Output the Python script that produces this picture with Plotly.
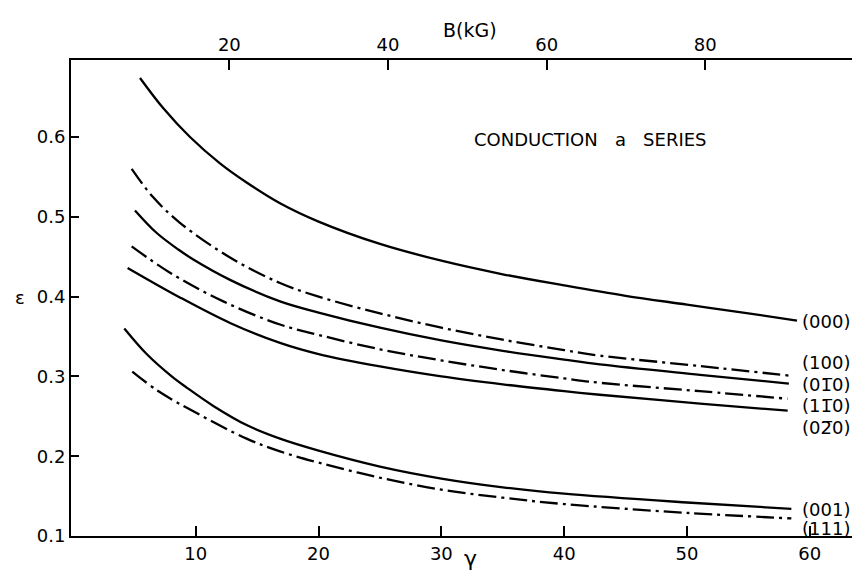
import plotly.graph_objects as go

# ---- data ----
gamma_000 = [5.46, 7.36, 9.53, 11.97, 14.14, 16.86, 20, 25, 30, 35, 40, 45, 50, 55, 58.96]
eps_000 = [0.674, 0.636, 0.600, 0.567, 0.543, 0.517, 0.494, 0.466, 0.445, 0.428, 0.414, 0.401, 0.390, 0.379, 0.370]

gamma_100 = [4.78, 6.5, 8.71, 12.79, 16.86, 20, 25, 30, 35, 40, 42.9, 51.06, 58.3]
eps_100 = [0.560, 0.525, 0.4925, 0.449, 0.417, 0.400, 0.379, 0.361, 0.346, 0.333, 0.326, 0.313, 0.301]

gamma_010 = [5.05, 6.8, 8.58, 9.8, 12.79, 16.86, 20, 25, 30, 35, 40, 42.9, 51.06, 58.3]
eps_010 = [0.508, 0.480, 0.459, 0.4465, 0.421, 0.394, 0.380, 0.361, 0.345, 0.332, 0.321, 0.315, 0.302, 0.291]

gamma_110 = [4.78, 7.9, 12.24, 16.86, 20, 25, 30, 35, 40, 42.9, 51.06, 58.2]
eps_110 = [0.463, 0.430, 0.394, 0.365, 0.352, 0.334, 0.320, 0.308, 0.2975, 0.292, 0.2815, 0.272]

gamma_020 = [4.45, 8.71, 12.79, 16.86, 20, 25, 30, 35, 40, 42.9, 51.06, 58.2]
eps_020 = [0.436, 0.399, 0.367, 0.342, 0.328, 0.3125, 0.300, 0.290, 0.2815, 0.277, 0.266, 0.257]

gamma_001 = [4.18, 6.0, 8.04, 9.26, 11.43, 14.14, 16.86, 20, 25, 30, 35, 40, 50, 58.5]
eps_001 = [0.360, 0.328, 0.300, 0.286, 0.263, 0.239, 0.222, 0.207, 0.187, 0.172, 0.161, 0.153, 0.142, 0.134]

gamma_111 = [4.83, 7.0, 10.07, 14.14, 16.86, 20, 25, 30, 35, 40, 50, 58.5]
eps_111 = [0.306, 0.281, 0.254, 0.222, 0.206, 0.192, 0.173, 0.158, 0.148, 0.140, 0.129, 0.122]

labels = ["(000)", "(100)", "(01\u03050)", "(11\u03050)", "(02\u03050)", "(001)", "(111)"]
label_eps = [0.3688, 0.3174, 0.2898, 0.2635, 0.2360, 0.1332, 0.1094]

x_ticks = [10, 20, 30, 40, 50, 60]
y_ticks = [0.1, 0.2, 0.3, 0.4, 0.5, 0.6]
y_ticktext = ["0.1", "0.2", "0.3", "0.4", "0.5", "0.6"]
b_ticks = [20, 40, 60, 80]

series = [
    (gamma_000, eps_000, "solid"),
    (gamma_100, eps_100, "dashdot"),
    (gamma_010, eps_010, "solid"),
    (gamma_110, eps_110, "dashdot"),
    (gamma_020, eps_020, "solid"),
    (gamma_001, eps_001, "solid"),
    (gamma_111, eps_111, "dashdot"),
]

FONT = "DejaVu Sans"
fig = go.Figure()
for gx, ey, style in series:
    dash = "solid" if style == "solid" else "18px,5px,3px,5px"
    fig.add_trace(go.Scatter(
        x=gx, y=ey, mode="lines",
        line=dict(color="black", width=2.3, dash=dash, shape="spline", smoothing=1.0),
        showlegend=False, hoverinfo="skip"))

# invisible trace to activate the top B axis
fig.add_trace(go.Scatter(x=[50], y=[0.4], xaxis="x2", mode="markers",
                         marker=dict(opacity=0), showlegend=False, hoverinfo="skip"))

for lab, ly in zip(labels, label_eps):
    fig.add_annotation(x=59.2, y=ly, text=lab, showarrow=False, xanchor="left",
                       yanchor="middle", font=dict(family=FONT, size=18, color="black"))

# page offset of 8px (body margin) compensated in margins
PW, PH = 789, 476
def px(xp):
    return (xp - 71) / PW
def py(yp):
    return (536 - yp) / PH

fig.add_annotation(x=px(590), y=py(127), xref="paper", yref="paper",
                   text="CONDUCTION   a   SERIES", showarrow=False,
                   font=dict(family=FONT, size=18, color="black"))
fig.add_annotation(x=px(470), y=py(573), xref="paper", yref="paper", text="\u03b3",
                   showarrow=False, font=dict(family=FONT, size=22, color="black"))
fig.add_annotation(x=px(470), y=py(17), xref="paper", yref="paper", text="B(kG)",
                   showarrow=False, font=dict(family=FONT, size=19, color="black"))
fig.add_annotation(x=px(13), y=py(297), xref="paper", yref="paper", text="\u03b5",
                   showarrow=False, font=dict(family=FONT, size=18, color="black"))

fig.update_layout(
    width=852, height=574,
    margin=dict(l=63, r=0, t=52, b=46),
    plot_bgcolor="white", paper_bgcolor="white",
    font=dict(family=FONT, size=18, color="black"),
    xaxis=dict(range=[-0.16, 64.09], tickvals=x_ticks, ticks="inside", ticklen=10,
               tickwidth=1.5, tickcolor="black", showline=True, linecolor="black",
               linewidth=2, showgrid=False, zeroline=False,
               tickfont=dict(family=FONT, size=18)),
    xaxis2=dict(range=[0.04, 99.5], overlaying="x", side="top", tickvals=b_ticks,
                ticks="inside", ticklen=10, tickwidth=1.5, tickcolor="black",
                showline=True, linecolor="black", linewidth=2, showgrid=False,
                zeroline=False, tickfont=dict(family=FONT, size=18)),
    yaxis=dict(range=[0.1, 0.6965], tickvals=y_ticks, ticktext=y_ticktext, ticks="inside",
               ticklen=8, tickwidth=1.5, tickcolor="black", showline=True,
               linecolor="black", linewidth=2, showgrid=False, zeroline=False,
               tickfont=dict(family=FONT, size=18)),
)

fig.write_html("out.html")
